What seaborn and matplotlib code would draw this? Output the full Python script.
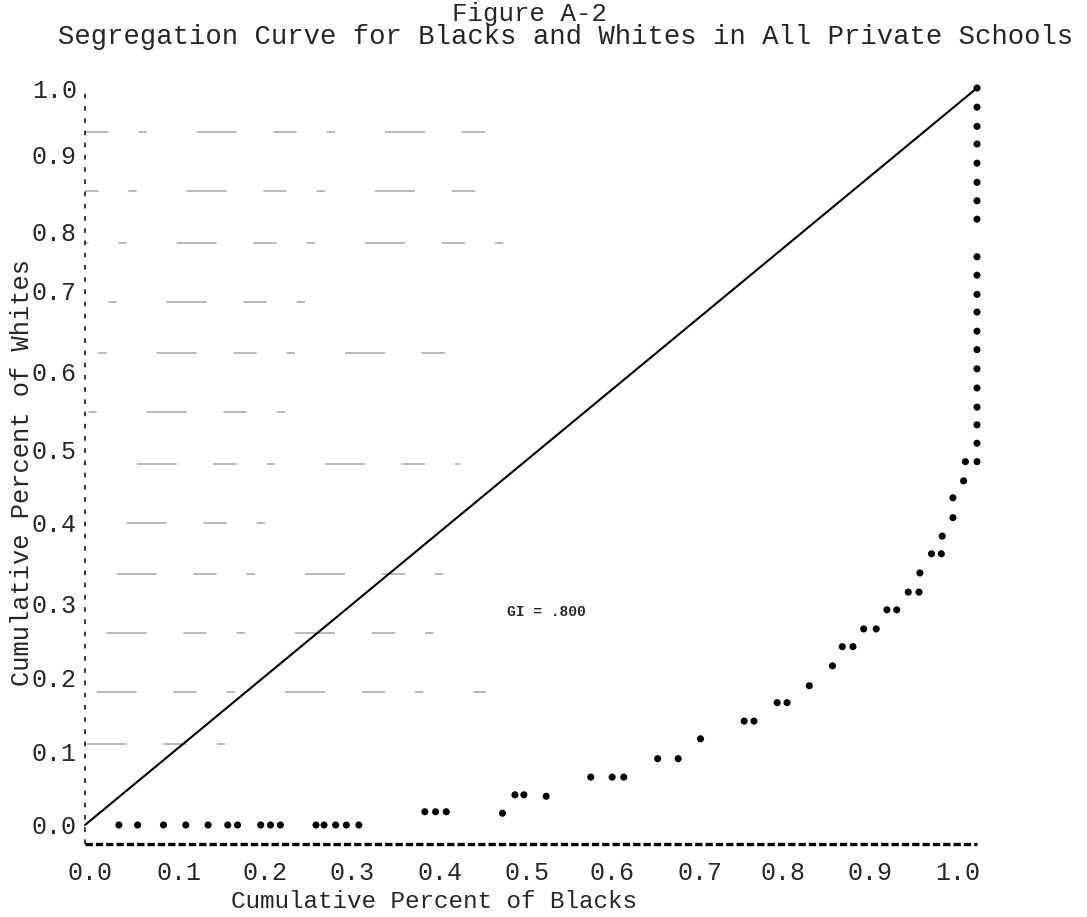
import matplotlib
matplotlib.use("Agg")
import matplotlib.pyplot as plt
import numpy as np
import pandas as pd
import seaborn as sns

# Segregation curve: cumulative share of Black pupils (x) against
# cumulative share of White pupils (y), schools ordered by racial mix.
blacks_cum = [
    0.038, 0.059, 0.088, 0.113, 0.138, 0.160, 0.171, 0.197, 0.208, 0.219,
    0.259, 0.268, 0.281, 0.293, 0.307,
    0.381, 0.393, 0.405, 0.468, 0.482, 0.492, 0.517,
    0.567, 0.591, 0.604, 0.642, 0.665, 0.690, 0.739, 0.750,
    0.776, 0.787, 0.812, 0.838, 0.849, 0.861, 0.873, 0.887,
    0.899, 0.910, 0.923, 0.935, 0.936, 0.949, 0.960, 0.961,
    0.973, 0.973, 0.985, 0.987, 1.000,
    1.000, 1.000, 1.000, 1.000, 1.000, 1.000, 1.000, 1.000, 1.000,
    1.000, 1.000, 1.000, 1.000, 1.000, 1.000, 1.000, 1.000, 1.000, 1.000,
]
whites_cum = [
    0.000, 0.000, 0.000, 0.000, 0.000, 0.000, 0.000, 0.000, 0.000, 0.000,
    0.000, 0.000, 0.000, 0.000, 0.000,
    0.018, 0.018, 0.018, 0.016, 0.041, 0.041, 0.039,
    0.065, 0.065, 0.065, 0.090, 0.090, 0.117, 0.141, 0.141,
    0.166, 0.166, 0.189, 0.216, 0.242, 0.242, 0.266, 0.266,
    0.292, 0.292, 0.316, 0.316, 0.342, 0.368, 0.368, 0.392,
    0.417, 0.444, 0.467, 0.493, 0.493,
    0.518, 0.543, 0.567, 0.593, 0.619, 0.645, 0.670, 0.696, 0.720,
    0.746, 0.771, 0.822, 0.847, 0.872, 0.898, 0.924, 0.948, 0.974, 1.000,
]

# Line of perfect evenness
equality_x = [0.0, 1.0]
equality_y = [0.0, 1.0]

gini_label = "GI = .800"

x_tick_values = [0.006, 0.105, 0.202, 0.299, 0.398, 0.495, 0.591, 0.689, 0.782, 0.880, 0.978]
x_tick_labels = ["0.0", "0.1", "0.2", "0.3", "0.4", "0.5", "0.6", "0.7", "0.8", "0.9", "1.0"]
y_tick_values = [0.0, 0.10, 0.20, 0.30, 0.41, 0.51, 0.615, 0.725, 0.805, 0.91, 1.0]
y_tick_labels = ["0.0", "0.1", "0.2", "0.3", "0.4", "0.5", "0.6", "0.7", "0.8", "0.9", "1.0"]

# faint typed guide rows showing through on the left part of the sheet
guide_rows = [0.94, 0.86, 0.79, 0.71, 0.64, 0.56, 0.49, 0.41, 0.34, 0.26, 0.18, 0.11]
guide_ends = [0.45, 0.45, 0.50, 0.30, 0.42, 0.25, 0.42, 0.22, 0.45, 0.40, 0.45, 0.18]

curve = pd.DataFrame({"blacks": blacks_cum, "whites": whites_cum})
diag = pd.DataFrame({"blacks": equality_x, "whites": equality_y})

sns.set_theme(style="white")
plt.rcParams["font.family"] = ["Liberation Mono", "DejaVu Sans Mono"]

W, H = 1087, 917
fig = plt.figure(figsize=(W / 100, H / 100), dpi=100)

# pixel frame of the plotting area: x -> 85 + 892*x, y -> 825 - 737*y
xlim = (-0.006, 1.07)
ylim = (-0.045, 1.02)
lpx, rpx = 85 + 892 * xlim[0], 85 + 892 * xlim[1]
tpx, bpx = 825 - 737 * ylim[1], 825 - 737 * ylim[0]
ax = fig.add_axes([lpx / W, 1 - bpx / H, (rpx - lpx) / W, (bpx - tpx) / H])

for i, (yr, xe) in enumerate(zip(guide_rows, guide_ends)):
    ax.plot([0.0, xe], [yr, yr], color="#adadad", linewidth=1.2,
            linestyle=(6 * i, (14, 18, 5, 30, 24, 22)), zorder=0)

sns.lineplot(data=diag, x="blacks", y="whites", ax=ax, color="black",
             linewidth=1.5, legend=False)
sns.scatterplot(data=curve, x="blacks", y="whites", ax=ax, color="black",
                s=26, edgecolor="none", legend=False)

# typed frame: dashed left rule and heavy dotted base rule
ax.plot([0, 0], [-0.026, 1.0], color="black", linewidth=1.1,
        linestyle=(0, (3, 5)), clip_on=False)
ax.plot([0, 1.0], [-0.026, -0.026], color="black", linewidth=2.4,
        linestyle=(0, (2.2, 0.9)), clip_on=False)

ax.text(0.473, 0.289, gini_label, fontsize=10.5, fontweight="bold",
        ha="left", va="center")

ax.set_xlim(*xlim)
ax.set_ylim(*ylim)
ax.set_xticks(x_tick_values)
ax.set_xticklabels(x_tick_labels)
ax.set_yticks(y_tick_values)
ax.set_yticklabels(y_tick_labels)
ax.tick_params(length=0, labelsize=18, pad=2)
for s in ax.spines.values():
    s.set_visible(False)
ax.set_xlabel("")
ax.set_ylabel("")

fig.text(529 / W, 1 - 14 / H, "Figure A-2", fontsize=18.5, ha="center", va="center")
fig.text(566 / W, 1 - 37 / H,
         "Segregation Curve for Blacks and Whites in All Private Schools",
         fontsize=19.6, ha="center", va="center")
fig.text(434 / W, 1 - 902 / H, "Cumulative Percent of Blacks",
         fontsize=17.5, ha="center", va="center")
fig.text(22 / W, 1 - 472 / H, "Cumulative Percent of Whites",
         fontsize=18.3, ha="center", va="center", rotation=90)

fig.savefig("out.png", dpi=100, facecolor="white")
